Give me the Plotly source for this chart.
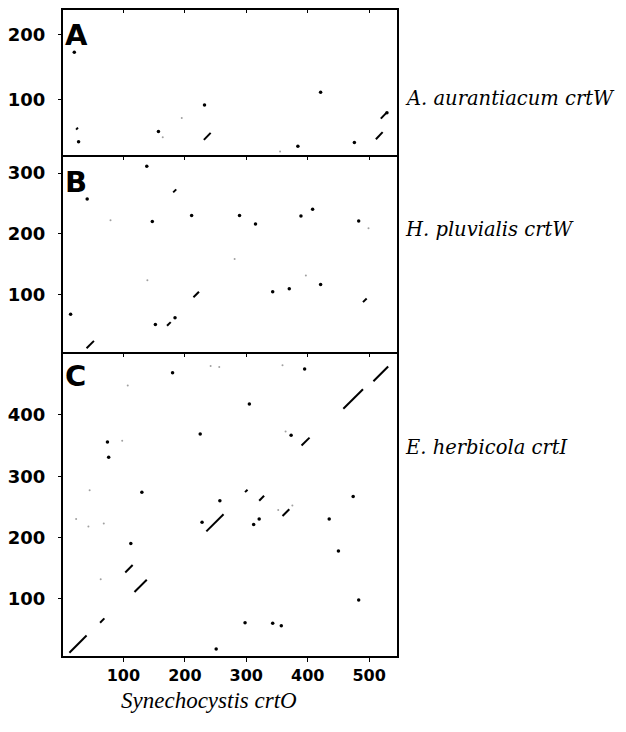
import plotly.graph_objects as go

# ---------------- data (residue positions) ----------------
x_ticks = [100, 200, 300, 400, 500]
x_title = "Synechocystis crtO"

# Panel A: A. aurantiacum crtW
A_label = "A. aurantiacum crtW"
A_yticks = [100, 200]
A_seg_x = [23, 231, 511, 519]
A_seg_y = [53, 37, 38, 70]
A_seg_len = [3, 11, 11, 9]
A_dot_x = [20, 27, 157, 232, 384, 421, 476, 529]
A_dot_y = [173, 34, 50, 91, 27, 111, 33, 79]
A_faint_x = [164, 195, 355]
A_faint_y = [41, 71, 19]

# Panel B: H. pluvialis crtW
B_label = "H. pluvialis crtW"
B_yticks = [100, 200, 300]
B_seg_x = [181, 214, 490, 171, 40]
B_seg_y = [268, 95, 87, 48, 11]
B_seg_len = [5, 9, 6, 6, 12]
B_dot_x = [138, 41, 147, 211, 289, 315, 389, 408, 483, 421, 343, 370, 14, 152, 184]
B_dot_y = [311, 257, 220, 230, 230, 216, 229, 240, 221, 116, 104, 109, 67, 50, 61]
B_faint_x = [79, 499, 281, 139, 397]
B_faint_y = [222, 209, 158, 123, 131]

# Panel C: E. herbicola crtI
C_label = "E. herbicola crtI"
C_yticks = [100, 200, 300, 400]
C_seg_x = [12, 62, 103, 118, 235, 298, 321, 359, 390, 458, 507]
C_seg_y = [12, 61, 143, 111, 210, 274, 260, 235, 350, 410, 455]
C_seg_len = [28, 7, 12, 20, 28, 4, 8, 11, 13, 32, 24]
C_dot_x = [112, 130, 74, 76, 180, 225, 228, 257, 251, 298, 305, 343, 357, 373,
           395, 435, 450, 474, 483, 312, 321]
C_dot_y = [190, 274, 356, 331, 469, 369, 225, 260, 18, 61, 418, 60, 56, 367,
           475, 230, 178, 267, 98, 221, 230]
C_faint_x = [63, 98, 107, 45, 23, 43, 68, 242, 256, 352, 375, 364, 359]
C_faint_y = [132, 358, 448, 277, 230, 218, 223, 480, 478, 245, 252, 373, 481]

# page body has an 8px default margin; figure is sized to fit the 626x732 window
FIG_W, FIG_H = 618, 724
L, T, R, B = 54, 1, 228, 75
PLOT_H = FIG_H - T - B  # 648


def py_to_paper(py_abs):
    # absolute window pixel row -> paper coordinate
    return (FIG_H - B - (py_abs - 8)) / PLOT_H


panels = [
    dict(label=A_label, letter="A", yticks=A_yticks, yrange=[12, 240],
         sx=A_seg_x, sy=A_seg_y, sl=A_seg_len, dx=A_dot_x, dy=A_dot_y,
         fx=A_faint_x, fy=A_faint_y, dom=[0.7731, 1.0], label_py=98),
    dict(label=B_label, letter="B", yticks=B_yticks, yrange=[3, 328],
         sx=B_seg_x, sy=B_seg_y, sl=B_seg_len, dx=B_dot_x, dy=B_dot_y,
         fx=B_faint_x, fy=B_faint_y, dom=[0.4691, 0.7731], label_py=230),
    dict(label=C_label, letter="C", yticks=C_yticks, yrange=[5, 501],
         sx=C_seg_x, sy=C_seg_y, sl=C_seg_len, dx=C_dot_x, dy=C_dot_y,
         fx=C_faint_x, fy=C_faint_y, dom=[0.0, 0.4691], label_py=447),
]

X_RANGE = [0, 547]
ytickfont = dict(family="DejaVu Sans", size=18, color="black", weight="bold")
xtickfont = dict(family="DejaVu Sans", size=16, color="black", weight="bold")
label_font = dict(family="DejaVu Serif", size=19.5, color="black", style="italic")
title_font = dict(family="Liberation Serif", size=23, color="black", style="italic")

fig = go.Figure()
layout = dict(
    width=FIG_W, height=FIG_H,
    margin=dict(l=L, r=R, t=T, b=B, autoexpand=False),
    paper_bgcolor="white", plot_bgcolor="white",
    showlegend=False,
    annotations=[], shapes=[],
)

for i, p in enumerate(panels):
    n = i + 1
    xa = "x" if n == 1 else f"x{n}"
    ya = "y" if n == 1 else f"y{n}"
    lx, ly = [], []
    for x0, y0, Ln in zip(p["sx"], p["sy"], p["sl"]):
        lx += [x0, x0 + Ln, None]
        ly += [y0, y0 + Ln, None]
    fig.add_trace(go.Scatter(x=lx, y=ly, mode="lines", xaxis=xa, yaxis=ya,
                             line=dict(color="black", width=2), hoverinfo="skip"))
    fig.add_trace(go.Scatter(x=p["dx"], y=p["dy"], mode="markers", xaxis=xa, yaxis=ya,
                             marker=dict(color="black", size=3.5, line=dict(width=0))))
    fig.add_trace(go.Scatter(x=p["fx"], y=p["fy"], mode="markers", xaxis=xa, yaxis=ya,
                             marker=dict(color="#a0a0a0", size=2, line=dict(width=0))))

    is_bottom = (n == 3)
    xkey = "xaxis" if n == 1 else f"xaxis{n}"
    ykey = "yaxis" if n == 1 else f"yaxis{n}"
    layout[xkey] = dict(
        domain=[0, 1], anchor=ya, range=X_RANGE, tickvals=x_ticks,
        showline=False, showgrid=False, zeroline=False, automargin=False,
        ticks="outside" if is_bottom else "", ticklen=4, tickwidth=1, tickcolor="black",
        showticklabels=is_bottom, tickfont=xtickfont, ticklabelstandoff=0,
    )
    if n != 1:
        layout[xkey]["matches"] = "x"
    layout[ykey] = dict(
        domain=p["dom"], anchor=xa, range=p["yrange"], tickvals=p["yticks"],
        showline=False, showgrid=False, zeroline=False, automargin=False,
        ticks="outside", ticklen=3, tickwidth=1, tickcolor="black",
        tickfont=ytickfont, ticklabelstandoff=9,
    )
    tkey = f"xaxis{n + 3}"
    layout[tkey] = dict(
        overlaying=xa, anchor=ya, side="top", range=X_RANGE, tickvals=x_ticks,
        showline=False, showgrid=False, zeroline=False, ticks="inside",
        ticklen=4, tickwidth=1, tickcolor="black", showticklabels=False,
        automargin=False,
    )
    fig.add_trace(go.Scatter(x=[None], y=[None], xaxis=f"x{n + 3}", yaxis=ya,
                             mode="markers", hoverinfo="skip"))

    # panel frame
    layout["shapes"].append(dict(
        type="rect", xref="paper", yref="paper", x0=0, x1=1,
        y0=p["dom"][0], y1=p["dom"][1], line=dict(color="black", width=2),
        fillcolor="rgba(0,0,0,0)", layer="above",
    ))

    layout["annotations"].append(dict(
        text=p["letter"], xref=f"{xa} domain", yref=f"{ya} domain",
        x=0, y=1, xanchor="left", yanchor="top", xshift=1, yshift=-7 if n < 3 else -4,
        showarrow=False,
        font=dict(family="DejaVu Sans", size=29, color="black", weight="bold"),
    ))
    layout["annotations"].append(dict(
        text=p["label"], xref="paper", yref="paper",
        x=1, y=py_to_paper(p["label_py"]), xanchor="left", yanchor="middle", xshift=5,
        showarrow=False, font=label_font,
    ))

layout["annotations"].append(dict(
    text=x_title, xref="paper", yref="paper", x=(209 - 62) / 336, y=py_to_paper(700),
    xanchor="center", yanchor="middle", showarrow=False, font=title_font,
))

fig.update_layout(**layout)
fig.write_html("out.html")
